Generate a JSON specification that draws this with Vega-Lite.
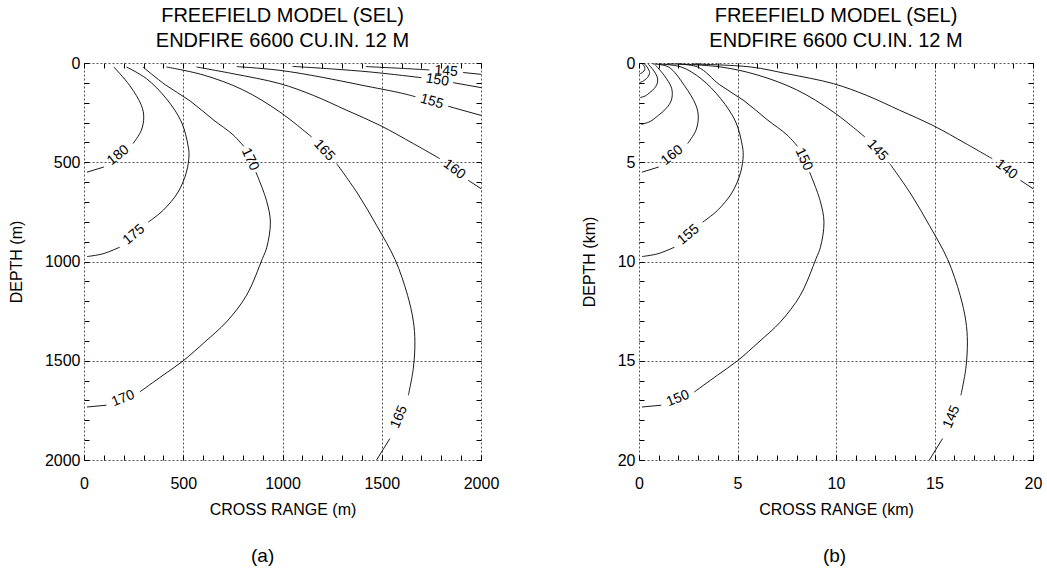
{
  "$schema": "https://vega.github.io/schema/vega-lite/v6.json",
  "background": "white",
  "padding": {"left": 8, "top": 6, "right": 5, "bottom": 0},
  "config": {
    "view": {"stroke": null},
    "font": "Liberation Sans",
    "text": {"font": "Liberation Sans"}
  },
  "datasets": {
    "lines": [
      {"p":"a","s":"a180a","o":1,"x":150,"d":20},{"p":"a","s":"a180a","o":2,"x":230,"d":113},{"p":"a","s":"a180a","o":3,"x":289,"d":213},{"p":"a","s":"a180a","o":4,"x":301,"d":272},{"p":"a","s":"a180a","o":5,"x":289,"d":339},{"p":"a","s":"a180a","o":6,"x":247,"d":406},
      {"p":"a","s":"a180b","o":1,"x":100,"d":524},{"p":"a","s":"a180b","o":2,"x":15,"d":550},
      {"p":"a","s":"a175a","o":1,"x":214,"d":20},{"p":"a","s":"a175a","o":2,"x":315,"d":79},{"p":"a","s":"a175a","o":3,"x":415,"d":180},{"p":"a","s":"a175a","o":4,"x":491,"d":297},{"p":"a","s":"a175a","o":5,"x":524,"d":415},{"p":"a","s":"a175a","o":6,"x":529,"d":465},{"p":"a","s":"a175a","o":7,"x":516,"d":550},{"p":"a","s":"a175a","o":8,"x":474,"d":650},{"p":"a","s":"a175a","o":9,"x":398,"d":743},{"p":"a","s":"a175a","o":10,"x":323,"d":802},
      {"p":"a","s":"a175b","o":1,"x":180,"d":928},{"p":"a","s":"a175b","o":2,"x":96,"d":961},{"p":"a","s":"a175b","o":3,"x":15,"d":975},
      {"p":"a","s":"a170a","o":1,"x":297,"d":20},{"p":"a","s":"a170a","o":2,"x":410,"d":110},{"p":"a","s":"a170a","o":3,"x":533,"d":190},{"p":"a","s":"a170a","o":4,"x":650,"d":285},{"p":"a","s":"a170a","o":5,"x":751,"d":362},{"p":"a","s":"a170a","o":6,"x":805,"d":420},
      {"p":"a","s":"a170b","o":1,"x":866,"d":550},{"p":"a","s":"a170b","o":2,"x":919,"d":692},{"p":"a","s":"a170b","o":3,"x":939,"d":802},{"p":"a","s":"a170b","o":4,"x":921,"d":928},{"p":"a","s":"a170b","o":5,"x":899,"d":985},{"p":"a","s":"a170b","o":6,"x":819,"d":1170},{"p":"a","s":"a170b","o":7,"x":718,"d":1304},{"p":"a","s":"a170b","o":8,"x":609,"d":1405},{"p":"a","s":"a170b","o":9,"x":500,"d":1500},{"p":"a","s":"a170b","o":10,"x":398,"d":1573},{"p":"a","s":"a170b","o":11,"x":281,"d":1657},
      {"p":"a","s":"a170c","o":1,"x":113,"d":1724},{"p":"a","s":"a170c","o":2,"x":15,"d":1733},
      {"p":"a","s":"a165a","o":1,"x":415,"d":20},{"p":"a","s":"a165a","o":2,"x":600,"d":60},{"p":"a","s":"a165a","o":3,"x":800,"d":135},{"p":"a","s":"a165a","o":4,"x":987,"d":247},{"p":"a","s":"a165a","o":5,"x":1147,"d":373},
      {"p":"a","s":"a165b","o":1,"x":1273,"d":507},{"p":"a","s":"a165b","o":2,"x":1380,"d":660},{"p":"a","s":"a165b","o":3,"x":1475,"d":820},{"p":"a","s":"a165b","o":4,"x":1567,"d":990},{"p":"a","s":"a165b","o":5,"x":1630,"d":1170},{"p":"a","s":"a165b","o":6,"x":1659,"d":1300},{"p":"a","s":"a165b","o":7,"x":1667,"d":1405},{"p":"a","s":"a165b","o":8,"x":1659,"d":1539},{"p":"a","s":"a165b","o":9,"x":1634,"d":1674},
      {"p":"a","s":"a165c","o":1,"x":1541,"d":1892},{"p":"a","s":"a165c","o":2,"x":1474,"d":2000},
      {"p":"a","s":"a160a","o":1,"x":567,"d":20},{"p":"a","s":"a160a","o":2,"x":751,"d":54},{"p":"a","s":"a160a","o":3,"x":987,"d":104},{"p":"a","s":"a160a","o":4,"x":1155,"d":163},{"p":"a","s":"a160a","o":5,"x":1323,"d":238},{"p":"a","s":"a160a","o":6,"x":1491,"d":314},{"p":"a","s":"a160a","o":7,"x":1659,"d":406},{"p":"a","s":"a160a","o":8,"x":1793,"d":482},
      {"p":"a","s":"a160b","o":1,"x":1936,"d":591},{"p":"a","s":"a160b","o":2,"x":2000,"d":633},
      {"p":"a","s":"a155a","o":1,"x":770,"d":18},{"p":"a","s":"a155a","o":2,"x":987,"d":37},{"p":"a","s":"a155a","o":3,"x":1200,"d":72},{"p":"a","s":"a155a","o":4,"x":1400,"d":112},{"p":"a","s":"a155a","o":5,"x":1600,"d":152},{"p":"a","s":"a155a","o":6,"x":1670,"d":170},
      {"p":"a","s":"a155b","o":1,"x":1835,"d":218},{"p":"a","s":"a155b","o":2,"x":2000,"d":264},
      {"p":"a","s":"a150a","o":1,"x":1050,"d":17},{"p":"a","s":"a150a","o":2,"x":1250,"d":30},{"p":"a","s":"a150a","o":3,"x":1450,"d":46},{"p":"a","s":"a150a","o":4,"x":1700,"d":74},
      {"p":"a","s":"a150b","o":1,"x":1860,"d":99},{"p":"a","s":"a150b","o":2,"x":2000,"d":124},
      {"p":"a","s":"a145a","o":1,"x":1420,"d":18},{"p":"a","s":"a145a","o":2,"x":1600,"d":27},{"p":"a","s":"a145a","o":3,"x":1740,"d":35},
      {"p":"a","s":"a145b","o":1,"x":1910,"d":48},{"p":"a","s":"a145b","o":2,"x":2000,"d":57},

      {"p":"b","s":"b180","o":1,"x":0.15,"d":0.02},{"p":"b","s":"b180","o":2,"x":0.23,"d":0.11},{"p":"b","s":"b180","o":3,"x":0.29,"d":0.21},{"p":"b","s":"b180","o":4,"x":0.3,"d":0.27},{"p":"b","s":"b180","o":5,"x":0.29,"d":0.34},{"p":"b","s":"b180","o":6,"x":0.25,"d":0.41},{"p":"b","s":"b180","o":7,"x":0.18,"d":0.47},{"p":"b","s":"b180","o":8,"x":0.1,"d":0.52},{"p":"b","s":"b180","o":9,"x":0.02,"d":0.55},
      {"p":"b","s":"b175","o":1,"x":0.27,"d":0.04},{"p":"b","s":"b175","o":2,"x":0.41,"d":0.2},{"p":"b","s":"b175","o":3,"x":0.51,"d":0.38},{"p":"b","s":"b175","o":4,"x":0.54,"d":0.48},{"p":"b","s":"b175","o":5,"x":0.51,"d":0.6},{"p":"b","s":"b175","o":6,"x":0.44,"d":0.72},{"p":"b","s":"b175","o":7,"x":0.31,"d":0.84},{"p":"b","s":"b175","o":8,"x":0.18,"d":0.93},{"p":"b","s":"b175","o":9,"x":0.04,"d":0.98},
      {"p":"b","s":"b170","o":1,"x":0.47,"d":0.06},{"p":"b","s":"b170","o":2,"x":0.73,"d":0.36},{"p":"b","s":"b170","o":3,"x":0.91,"d":0.67},{"p":"b","s":"b170","o":4,"x":0.95,"d":0.86},{"p":"b","s":"b170","o":5,"x":0.91,"d":1.07},{"p":"b","s":"b170","o":6,"x":0.78,"d":1.28},{"p":"b","s":"b170","o":7,"x":0.55,"d":1.49},{"p":"b","s":"b170","o":8,"x":0.32,"d":1.66},{"p":"b","s":"b170","o":9,"x":0.06,"d":1.74},
      {"p":"b","s":"b165","o":1,"x":0.84,"d":0.11},{"p":"b","s":"b165","o":2,"x":1.29,"d":0.64},{"p":"b","s":"b165","o":3,"x":1.63,"d":1.2},{"p":"b","s":"b165","o":4,"x":1.69,"d":1.53},{"p":"b","s":"b165","o":5,"x":1.63,"d":1.91},{"p":"b","s":"b165","o":6,"x":1.39,"d":2.28},{"p":"b","s":"b165","o":7,"x":0.98,"d":2.64},{"p":"b","s":"b165","o":8,"x":0.56,"d":2.95},{"p":"b","s":"b165","o":9,"x":0.11,"d":3.09},
      {"p":"b","s":"b160a","o":1,"x":0.7,"d":0.05},{"p":"b","s":"b160a","o":2,"x":1.5,"d":0.2},{"p":"b","s":"b160a","o":3,"x":2.3,"d":1.13},{"p":"b","s":"b160a","o":4,"x":2.89,"d":2.13},{"p":"b","s":"b160a","o":5,"x":3.01,"d":2.72},{"p":"b","s":"b160a","o":6,"x":2.89,"d":3.39},{"p":"b","s":"b160a","o":7,"x":2.47,"d":4.06},
      {"p":"b","s":"b160b","o":1,"x":1.0,"d":5.24},{"p":"b","s":"b160b","o":2,"x":0.15,"d":5.5},
      {"p":"b","s":"b155a","o":1,"x":1.0,"d":0.05},{"p":"b","s":"b155a","o":2,"x":2.14,"d":0.2},{"p":"b","s":"b155a","o":3,"x":3.15,"d":0.79},{"p":"b","s":"b155a","o":4,"x":4.15,"d":1.8},{"p":"b","s":"b155a","o":5,"x":4.91,"d":2.97},{"p":"b","s":"b155a","o":6,"x":5.24,"d":4.15},{"p":"b","s":"b155a","o":7,"x":5.29,"d":4.65},{"p":"b","s":"b155a","o":8,"x":5.16,"d":5.5},{"p":"b","s":"b155a","o":9,"x":4.74,"d":6.5},{"p":"b","s":"b155a","o":10,"x":3.98,"d":7.43},{"p":"b","s":"b155a","o":11,"x":3.23,"d":8.02},
      {"p":"b","s":"b155b","o":1,"x":1.8,"d":9.28},{"p":"b","s":"b155b","o":2,"x":0.96,"d":9.61},{"p":"b","s":"b155b","o":3,"x":0.15,"d":9.75},
      {"p":"b","s":"b150a","o":1,"x":1.4,"d":0.05},{"p":"b","s":"b150a","o":2,"x":2.97,"d":0.2},{"p":"b","s":"b150a","o":3,"x":4.1,"d":1.1},{"p":"b","s":"b150a","o":4,"x":5.33,"d":1.9},{"p":"b","s":"b150a","o":5,"x":6.5,"d":2.85},{"p":"b","s":"b150a","o":6,"x":7.51,"d":3.62},{"p":"b","s":"b150a","o":7,"x":8.05,"d":4.2},
      {"p":"b","s":"b150b","o":1,"x":8.66,"d":5.5},{"p":"b","s":"b150b","o":2,"x":9.19,"d":6.92},{"p":"b","s":"b150b","o":3,"x":9.39,"d":8.02},{"p":"b","s":"b150b","o":4,"x":9.21,"d":9.28},{"p":"b","s":"b150b","o":5,"x":8.99,"d":9.85},{"p":"b","s":"b150b","o":6,"x":8.19,"d":11.7},{"p":"b","s":"b150b","o":7,"x":7.18,"d":13.04},{"p":"b","s":"b150b","o":8,"x":6.09,"d":14.05},{"p":"b","s":"b150b","o":9,"x":5.0,"d":15.0},{"p":"b","s":"b150b","o":10,"x":3.98,"d":15.73},{"p":"b","s":"b150b","o":11,"x":2.81,"d":16.57},
      {"p":"b","s":"b150c","o":1,"x":1.13,"d":17.24},{"p":"b","s":"b150c","o":2,"x":0.15,"d":17.33},
      {"p":"b","s":"b145a","o":1,"x":2.0,"d":0.05},{"p":"b","s":"b145a","o":2,"x":4.15,"d":0.2},{"p":"b","s":"b145a","o":3,"x":6.0,"d":0.6},{"p":"b","s":"b145a","o":4,"x":8.0,"d":1.35},{"p":"b","s":"b145a","o":5,"x":9.87,"d":2.47},{"p":"b","s":"b145a","o":6,"x":11.47,"d":3.73},
      {"p":"b","s":"b145b","o":1,"x":12.73,"d":5.07},{"p":"b","s":"b145b","o":2,"x":13.8,"d":6.6},{"p":"b","s":"b145b","o":3,"x":14.75,"d":8.2},{"p":"b","s":"b145b","o":4,"x":15.67,"d":9.9},{"p":"b","s":"b145b","o":5,"x":16.3,"d":11.7},{"p":"b","s":"b145b","o":6,"x":16.59,"d":13.0},{"p":"b","s":"b145b","o":7,"x":16.67,"d":14.05},{"p":"b","s":"b145b","o":8,"x":16.59,"d":15.39},{"p":"b","s":"b145b","o":9,"x":16.34,"d":16.74},
      {"p":"b","s":"b145c","o":1,"x":15.41,"d":18.92},{"p":"b","s":"b145c","o":2,"x":14.74,"d":20.0},
      {"p":"b","s":"b140a","o":1,"x":2.7,"d":0.05},{"p":"b","s":"b140a","o":2,"x":5.67,"d":0.2},{"p":"b","s":"b140a","o":3,"x":7.51,"d":0.54},{"p":"b","s":"b140a","o":4,"x":9.87,"d":1.04},{"p":"b","s":"b140a","o":5,"x":11.55,"d":1.63},{"p":"b","s":"b140a","o":6,"x":13.23,"d":2.38},{"p":"b","s":"b140a","o":7,"x":14.91,"d":3.14},{"p":"b","s":"b140a","o":8,"x":16.59,"d":4.06},{"p":"b","s":"b140a","o":9,"x":17.93,"d":4.82},
      {"p":"b","s":"b140b","o":1,"x":19.36,"d":5.91},{"p":"b","s":"b140b","o":2,"x":20.0,"d":6.33}
    ],
    "labels": [
      {"p":"a","k":"c1","t":"180","x":172,"d":465},
      {"p":"a","k":"c2","t":"175","x":251,"d":865},
      {"p":"a","k":"c3u","t":"170","x":836,"d":485},
      {"p":"a","k":"c3l","t":"170","x":197,"d":1690},
      {"p":"a","k":"c4u","t":"165","x":1210,"d":440},
      {"p":"a","k":"c4l","t":"165","x":1587,"d":1783},
      {"p":"a","k":"c5","t":"160","x":1865,"d":536},
      {"p":"a","k":"c6","t":"155","x":1752,"d":194},
      {"p":"a","k":"c7","t":"150","x":1780,"d":86},
      {"p":"a","k":"c8","t":"145","x":1825,"d":41},
      {"p":"b","k":"c1","t":"160","x":1.68,"d":4.65},
      {"p":"b","k":"c2","t":"155","x":2.51,"d":8.65},
      {"p":"b","k":"c3u","t":"150","x":8.36,"d":4.85},
      {"p":"b","k":"c3l","t":"150","x":1.97,"d":16.9},
      {"p":"b","k":"c4u","t":"145","x":12.1,"d":4.4},
      {"p":"b","k":"c4l","t":"145","x":15.87,"d":17.83},
      {"p":"b","k":"c5","t":"140","x":18.65,"d":5.36}
    ]
  },
  "spacing": 82,
  "hconcat": [
    {
      "title": {"text": "(a)", "orient": "bottom", "fontSize": 19, "fontWeight": "normal", "font": "Liberation Sans", "color": "#000", "offset": 30, "anchor": "middle", "dx": 9},
      "vconcat": [
        {
          "width": 397,
          "height": 397,
          "title": {"text": ["FREEFIELD MODEL (SEL)", "ENDFIRE 6600 CU.IN. 12 M"], "fontSize": 20, "font": "Liberation Sans", "fontWeight": "normal", "color": "#000", "lineHeight": 25, "offset": 4, "frame": "group", "anchor": "middle"},
          "resolve": {"axis": {"x": "independent", "y": "independent"}},
          "layer": [
            {
              "data": {"name": "lines"},
              "transform": [{"filter": "datum.p == 'a'"}],
              "mark": {"type": "line", "stroke": "#000", "strokeWidth": 0.9, "interpolate": "catmull-rom", "clip": true},
              "encoding": {
                "x": {"field": "x", "type": "quantitative", "scale": {"domain": [0, 2000], "nice": false, "zero": false},
                  "axis": {"orient": "bottom", "values": [0,100,200,300,400,500,600,700,800,900,1000,1100,1200,1300,1400,1500,1600,1700,1800,1900,2000], "format": "d", "labelExpr": "datum.value % 500 === 0 ? datum.label : ''", "grid": true, "gridDash": [2, 2], "gridColor": "#555", "gridWidth": 1, "gridOpacity": {"condition": {"test": "datum.value % 500 === 0", "value": 1}, "value": 0}, "tickSize": -5, "tickColor": "#000", "domain": false, "labelFontSize": 16, "labelFont": "Liberation Sans", "labelColor": "#000", "labelPadding": 20, "labelFlush": false, "labelOverlap": false, "title": "CROSS RANGE (m)", "titleFontSize": 16, "titleFont": "Liberation Sans", "titleFontWeight": "normal", "titleColor": "#000", "titlePadding": 10}},
                "y": {"field": "d", "type": "quantitative", "scale": {"domain": [0, 2000], "nice": false, "zero": false, "reverse": true},
                  "axis": {"orient": "left", "values": [0,100,200,300,400,500,600,700,800,900,1000,1100,1200,1300,1400,1500,1600,1700,1800,1900,2000], "format": "d", "labelExpr": "datum.value % 500 === 0 ? datum.label : ''", "grid": true, "gridDash": [2, 2], "gridColor": "#555", "gridWidth": 1, "gridOpacity": {"condition": {"test": "datum.value % 500 === 0", "value": 1}, "value": 0}, "tickSize": -5, "tickColor": "#000", "domain": false, "labelFontSize": 16, "labelFont": "Liberation Sans", "labelColor": "#000", "labelPadding": 9, "labelFlush": false, "labelOverlap": false, "title": "DEPTH (m)", "titleFontSize": 16, "titleFont": "Liberation Sans", "titleFontWeight": "normal", "titleColor": "#000", "titlePadding": 20}},
                "detail": {"field": "s"},
                "order": {"field": "o", "type": "quantitative"}
              }
            },
            {
              "data": {"name": "labels"},
              "transform": [{"filter": "datum.p == 'a' && datum.k == 'c1'"}],
              "mark": {"type": "text", "angle": -39, "fontSize": 14, "font": "Liberation Sans", "color": "#000", "align": "center", "baseline": "middle"},
              "encoding": {
                "x": {"field": "x", "type": "quantitative", "axis": {"orient": "top", "values": [0,100,200,300,400,500,600,700,800,900,1000,1100,1200,1300,1400,1500,1600,1700,1800,1900,2000], "labels": false, "grid": false, "tickSize": -5, "tickColor": "#000", "domain": false, "title": null}},
                "y": {"field": "d", "type": "quantitative", "axis": {"orient": "right", "values": [0,100,200,300,400,500,600,700,800,900,1000,1100,1200,1300,1400,1500,1600,1700,1800,1900,2000], "labels": false, "grid": false, "tickSize": -5, "tickColor": "#000", "domain": false, "title": null}},
                "text": {"field": "t"}
              }
            },
            {"data": {"name": "labels"}, "transform": [{"filter": "datum.p == 'a' && datum.k == 'c2'"}], "mark": {"type": "text", "angle": -40, "fontSize": 14, "color": "#000"}, "encoding": {"x": {"field": "x", "type": "quantitative", "axis": null}, "y": {"field": "d", "type": "quantitative", "axis": null}, "text": {"field": "t"}}},
            {"data": {"name": "labels"}, "transform": [{"filter": "datum.p == 'a' && datum.k == 'c3u'"}], "mark": {"type": "text", "angle": 65, "fontSize": 14, "color": "#000"}, "encoding": {"x": {"field": "x", "type": "quantitative", "axis": null}, "y": {"field": "d", "type": "quantitative", "axis": null}, "text": {"field": "t"}}},
            {"data": {"name": "labels"}, "transform": [{"filter": "datum.p == 'a' && datum.k == 'c3l'"}], "mark": {"type": "text", "angle": -22, "fontSize": 14, "color": "#000"}, "encoding": {"x": {"field": "x", "type": "quantitative", "axis": null}, "y": {"field": "d", "type": "quantitative", "axis": null}, "text": {"field": "t"}}},
            {"data": {"name": "labels"}, "transform": [{"filter": "datum.p == 'a' && datum.k == 'c4u'"}], "mark": {"type": "text", "angle": 47, "fontSize": 14, "color": "#000"}, "encoding": {"x": {"field": "x", "type": "quantitative", "axis": null}, "y": {"field": "d", "type": "quantitative", "axis": null}, "text": {"field": "t"}}},
            {"data": {"name": "labels"}, "transform": [{"filter": "datum.p == 'a' && datum.k == 'c4l'"}], "mark": {"type": "text", "angle": -67, "fontSize": 14, "color": "#000"}, "encoding": {"x": {"field": "x", "type": "quantitative", "axis": null}, "y": {"field": "d", "type": "quantitative", "axis": null}, "text": {"field": "t"}}},
            {"data": {"name": "labels"}, "transform": [{"filter": "datum.p == 'a' && datum.k == 'c5'"}], "mark": {"type": "text", "angle": 37, "fontSize": 14, "color": "#000"}, "encoding": {"x": {"field": "x", "type": "quantitative", "axis": null}, "y": {"field": "d", "type": "quantitative", "axis": null}, "text": {"field": "t"}}},
            {"data": {"name": "labels"}, "transform": [{"filter": "datum.p == 'a' && datum.k == 'c6'"}], "mark": {"type": "text", "angle": 16, "fontSize": 14, "color": "#000"}, "encoding": {"x": {"field": "x", "type": "quantitative", "axis": null}, "y": {"field": "d", "type": "quantitative", "axis": null}, "text": {"field": "t"}}},
            {"data": {"name": "labels"}, "transform": [{"filter": "datum.p == 'a' && datum.k == 'c7'"}], "mark": {"type": "text", "angle": 9, "fontSize": 14, "color": "#000"}, "encoding": {"x": {"field": "x", "type": "quantitative", "axis": null}, "y": {"field": "d", "type": "quantitative", "axis": null}, "text": {"field": "t"}}},
            {"data": {"name": "labels"}, "transform": [{"filter": "datum.p == 'a' && datum.k == 'c8'"}], "mark": {"type": "text", "angle": 4, "fontSize": 14, "color": "#000"}, "encoding": {"x": {"field": "x", "type": "quantitative", "axis": null}, "y": {"field": "d", "type": "quantitative", "axis": null}, "text": {"field": "t"}}}
          ]
        }
      ]
    },
    {
      "title": {"text": "(b)", "orient": "bottom", "fontSize": 19, "fontWeight": "normal", "font": "Liberation Sans", "color": "#000", "offset": 30, "anchor": "middle", "dx": 23},
      "vconcat": [
        {
          "width": 394,
          "height": 397,
          "title": {"text": ["FREEFIELD MODEL (SEL)", "ENDFIRE 6600 CU.IN. 12 M"], "fontSize": 20, "font": "Liberation Sans", "fontWeight": "normal", "color": "#000", "lineHeight": 25, "offset": 4, "frame": "group", "anchor": "middle"},
          "resolve": {"axis": {"x": "independent", "y": "independent"}},
          "layer": [
            {
              "data": {"name": "lines"},
              "transform": [{"filter": "datum.p == 'b'"}],
              "mark": {"type": "line", "stroke": "#000", "strokeWidth": 0.9, "interpolate": "catmull-rom", "clip": true},
              "encoding": {
                "x": {"field": "x", "type": "quantitative", "scale": {"domain": [0, 20], "nice": false, "zero": false},
                  "axis": {"orient": "bottom", "values": [0,1,2,3,4,5,6,7,8,9,10,11,12,13,14,15,16,17,18,19,20], "format": "d", "labelExpr": "datum.value % 5 === 0 ? datum.label : ''", "grid": true, "gridDash": [2, 2], "gridColor": "#555", "gridWidth": 1, "gridOpacity": {"condition": {"test": "datum.value % 5 === 0", "value": 1}, "value": 0}, "tickSize": -5, "tickColor": "#000", "domain": false, "labelFontSize": 16, "labelFont": "Liberation Sans", "labelColor": "#000", "labelPadding": 20, "labelFlush": false, "labelOverlap": false, "title": "CROSS RANGE (km)", "titleFontSize": 16, "titleFont": "Liberation Sans", "titleFontWeight": "normal", "titleColor": "#000", "titlePadding": 10}},
                "y": {"field": "d", "type": "quantitative", "scale": {"domain": [0, 20], "nice": false, "zero": false, "reverse": true},
                  "axis": {"orient": "left", "values": [0,1,2,3,4,5,6,7,8,9,10,11,12,13,14,15,16,17,18,19,20], "format": "d", "labelExpr": "datum.value % 5 === 0 ? datum.label : ''", "grid": true, "gridDash": [2, 2], "gridColor": "#555", "gridWidth": 1, "gridOpacity": {"condition": {"test": "datum.value % 5 === 0", "value": 1}, "value": 0}, "tickSize": -5, "tickColor": "#000", "domain": false, "labelFontSize": 16, "labelFont": "Liberation Sans", "labelColor": "#000", "labelPadding": 9, "labelFlush": false, "labelOverlap": false, "title": "DEPTH (km)", "titleFontSize": 16, "titleFont": "Liberation Sans", "titleFontWeight": "normal", "titleColor": "#000", "titlePadding": 20}},
                "detail": {"field": "s"},
                "order": {"field": "o", "type": "quantitative"}
              }
            },
            {
              "data": {"name": "labels"},
              "transform": [{"filter": "datum.p == 'b' && datum.k == 'c1'"}],
              "mark": {"type": "text", "angle": -39, "fontSize": 14, "font": "Liberation Sans", "color": "#000", "align": "center", "baseline": "middle"},
              "encoding": {
                "x": {"field": "x", "type": "quantitative", "axis": {"orient": "top", "values": [0,1,2,3,4,5,6,7,8,9,10,11,12,13,14,15,16,17,18,19,20], "labels": false, "grid": false, "tickSize": -5, "tickColor": "#000", "domain": false, "title": null}},
                "y": {"field": "d", "type": "quantitative", "axis": {"orient": "right", "values": [0,1,2,3,4,5,6,7,8,9,10,11,12,13,14,15,16,17,18,19,20], "labels": false, "grid": false, "tickSize": -5, "tickColor": "#000", "domain": false, "title": null}},
                "text": {"field": "t"}
              }
            },
            {"data": {"name": "labels"}, "transform": [{"filter": "datum.p == 'b' && datum.k == 'c2'"}], "mark": {"type": "text", "angle": -40, "fontSize": 14, "color": "#000"}, "encoding": {"x": {"field": "x", "type": "quantitative", "axis": null}, "y": {"field": "d", "type": "quantitative", "axis": null}, "text": {"field": "t"}}},
            {"data": {"name": "labels"}, "transform": [{"filter": "datum.p == 'b' && datum.k == 'c3u'"}], "mark": {"type": "text", "angle": 65, "fontSize": 14, "color": "#000"}, "encoding": {"x": {"field": "x", "type": "quantitative", "axis": null}, "y": {"field": "d", "type": "quantitative", "axis": null}, "text": {"field": "t"}}},
            {"data": {"name": "labels"}, "transform": [{"filter": "datum.p == 'b' && datum.k == 'c3l'"}], "mark": {"type": "text", "angle": -22, "fontSize": 14, "color": "#000"}, "encoding": {"x": {"field": "x", "type": "quantitative", "axis": null}, "y": {"field": "d", "type": "quantitative", "axis": null}, "text": {"field": "t"}}},
            {"data": {"name": "labels"}, "transform": [{"filter": "datum.p == 'b' && datum.k == 'c4u'"}], "mark": {"type": "text", "angle": 47, "fontSize": 14, "color": "#000"}, "encoding": {"x": {"field": "x", "type": "quantitative", "axis": null}, "y": {"field": "d", "type": "quantitative", "axis": null}, "text": {"field": "t"}}},
            {"data": {"name": "labels"}, "transform": [{"filter": "datum.p == 'b' && datum.k == 'c4l'"}], "mark": {"type": "text", "angle": -67, "fontSize": 14, "color": "#000"}, "encoding": {"x": {"field": "x", "type": "quantitative", "axis": null}, "y": {"field": "d", "type": "quantitative", "axis": null}, "text": {"field": "t"}}},
            {"data": {"name": "labels"}, "transform": [{"filter": "datum.p == 'b' && datum.k == 'c5'"}], "mark": {"type": "text", "angle": 37, "fontSize": 14, "color": "#000"}, "encoding": {"x": {"field": "x", "type": "quantitative", "axis": null}, "y": {"field": "d", "type": "quantitative", "axis": null}, "text": {"field": "t"}}}
          ]
        }
      ]
    }
  ]
}
